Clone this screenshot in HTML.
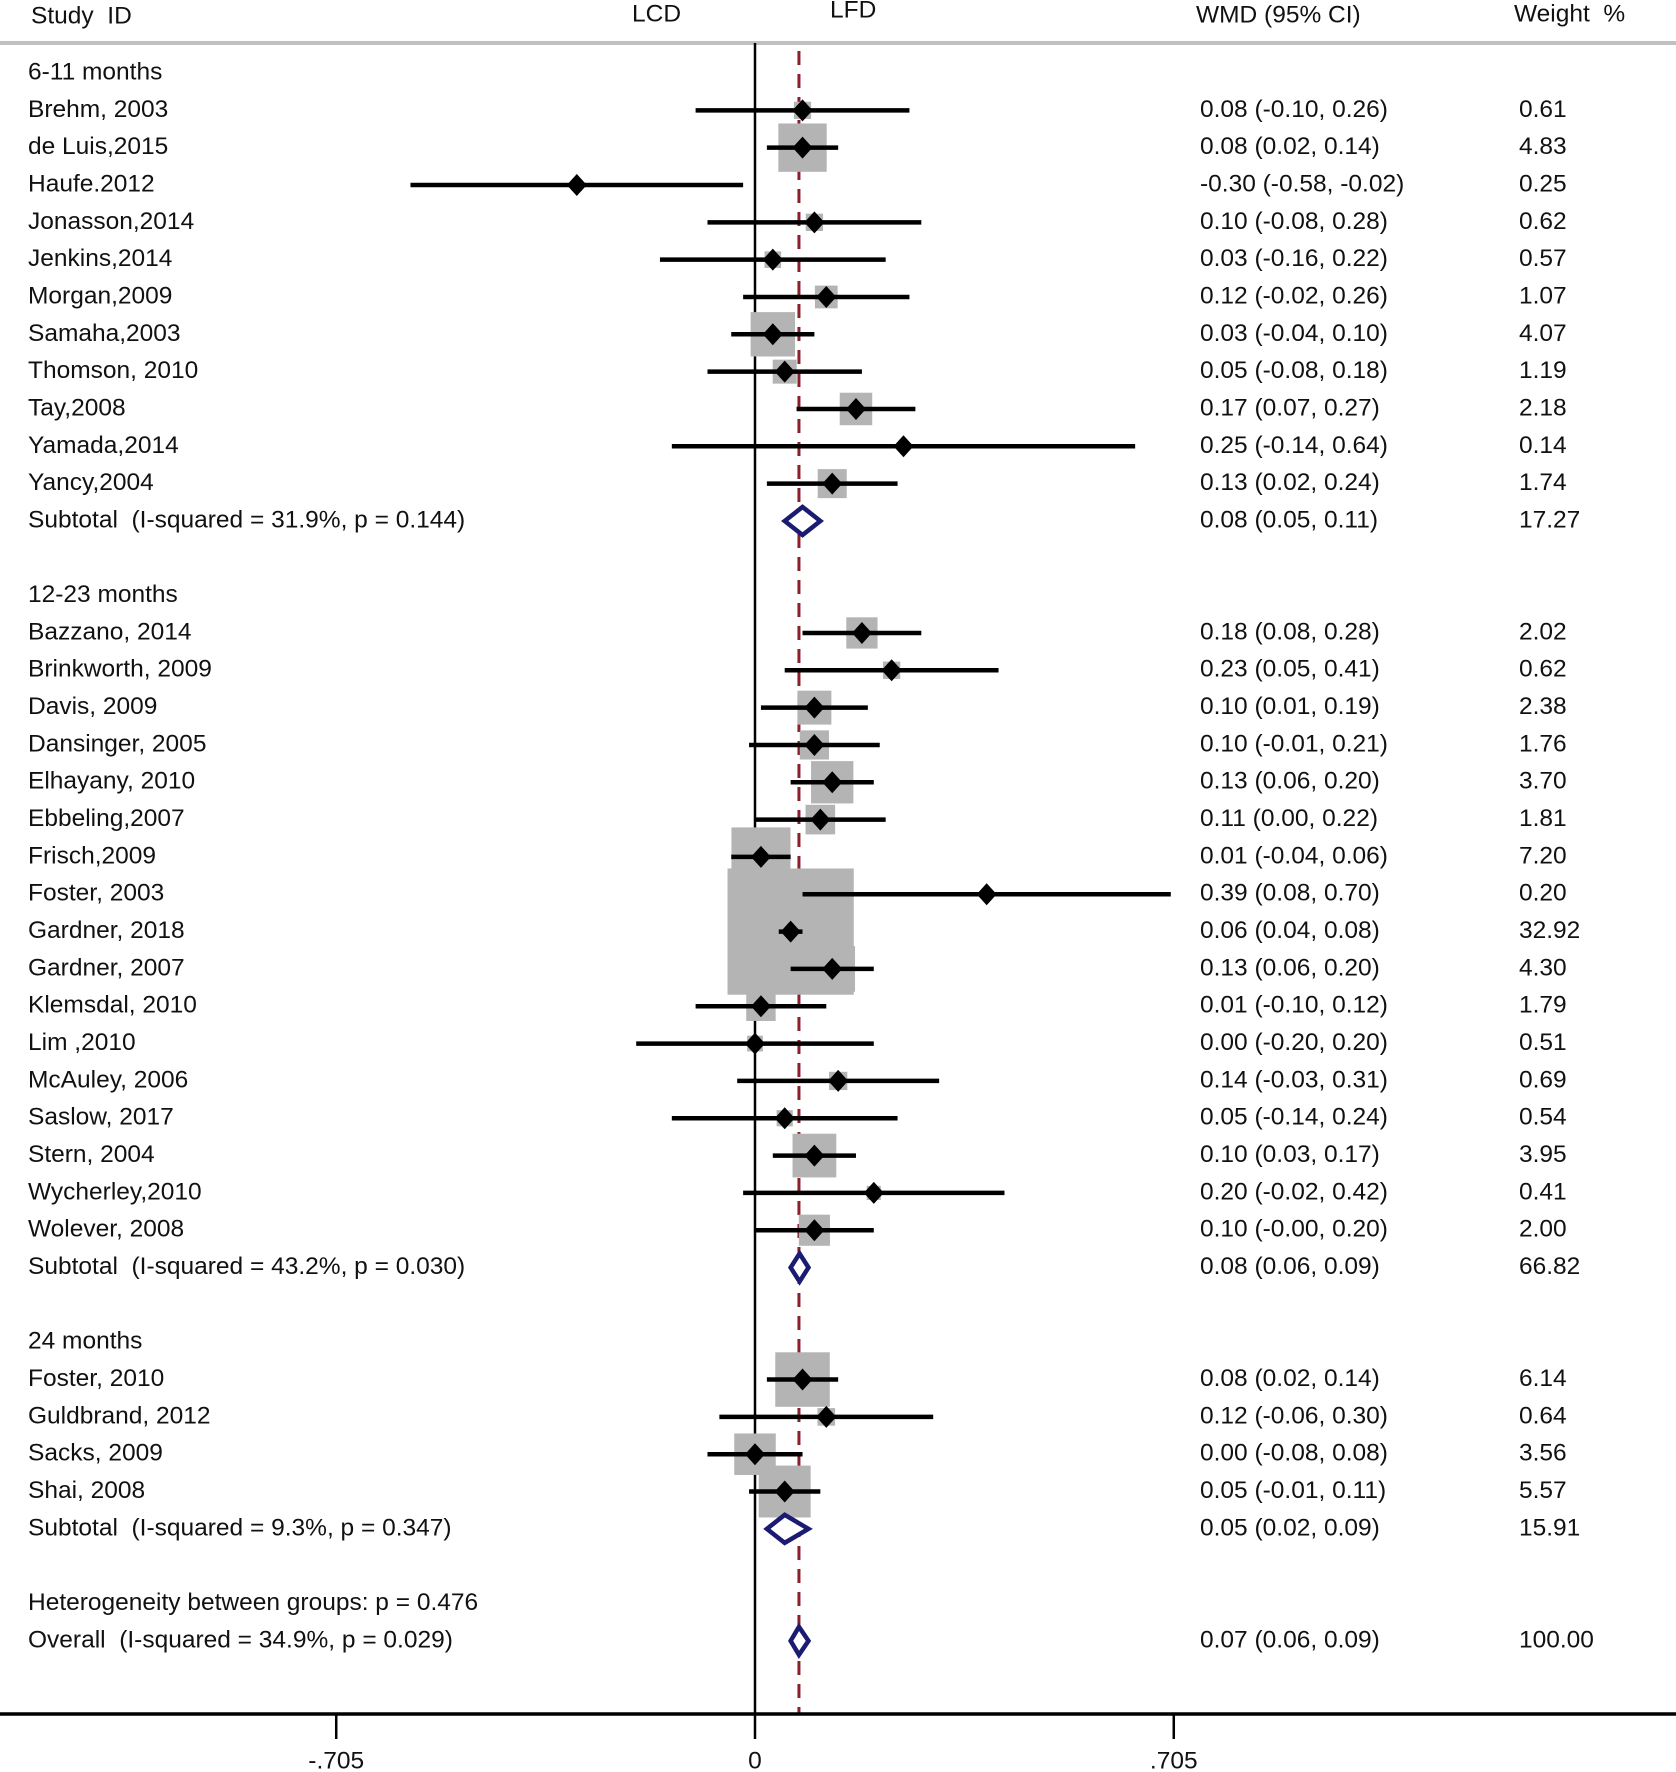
<!DOCTYPE html>
<html><head><meta charset="utf-8"><style>
html,body{margin:0;padding:0;background:#fff;}
svg{display:block;}
text{font-family:"Liberation Sans",Arial,sans-serif;font-size:24.5px;fill:#111;white-space:pre;}
</style></head><body>
<svg id="chart" width="1676" height="1772" viewBox="0 0 1676 1772" xmlns="http://www.w3.org/2000/svg" xml:space="preserve"></svg>
<script>
// ---- data ----
const rowLabels = ["6-11 months","Brehm, 2003","de Luis,2015","Haufe.2012","Jonasson,2014","Jenkins,2014","Morgan,2009","Samaha,2003","Thomson, 2010","Tay,2008","Yamada,2014","Yancy,2004","Subtotal  (I-squared = 31.9%, p = 0.144)","",
"12-23 months","Bazzano, 2014","Brinkworth, 2009","Davis, 2009","Dansinger, 2005","Elhayany, 2010","Ebbeling,2007","Frisch,2009","Foster, 2003","Gardner, 2018","Gardner, 2007","Klemsdal, 2010","Lim ,2010","McAuley, 2006","Saslow, 2017","Stern, 2004","Wycherley,2010","Wolever, 2008","Subtotal  (I-squared = 43.2%, p = 0.030)","",
"24 months","Foster, 2010","Guldbrand, 2012","Sacks, 2009","Shai, 2008","Subtotal  (I-squared = 9.3%, p = 0.347)","",
"Heterogeneity between groups: p = 0.476","Overall  (I-squared = 34.9%, p = 0.029)"];
const rowTypes = ["h","s","s","s","s","s","s","s","s","s","s","s","d","b",
"h","s","s","s","s","s","s","s","s","s","s","s","s","s","s","s","s","s","d","b",
"h","s","s","s","s","d","b","t","d"];
const est = [null,0.08,0.08,-0.30,0.10,0.03,0.12,0.03,0.05,0.17,0.25,0.13,0.08,null,
null,0.18,0.23,0.10,0.10,0.13,0.11,0.01,0.39,0.06,0.13,0.01,0.00,0.14,0.05,0.10,0.20,0.10,0.075,null,
null,0.08,0.12,0.00,0.05,0.05,null,null,0.074];
const lo = [null,-0.10,0.02,-0.58,-0.08,-0.16,-0.02,-0.04,-0.08,0.07,-0.14,0.02,0.05,null,
null,0.08,0.05,0.01,-0.01,0.06,0.00,-0.04,0.08,0.04,0.06,-0.10,-0.20,-0.03,-0.14,0.03,-0.02,-0.00,0.06,null,
null,0.02,-0.06,-0.08,-0.01,0.02,null,null,0.06];
const hi = [null,0.26,0.14,-0.02,0.28,0.22,0.26,0.10,0.18,0.27,0.64,0.24,0.11,null,
null,0.28,0.41,0.19,0.21,0.20,0.22,0.06,0.70,0.08,0.20,0.12,0.20,0.31,0.24,0.17,0.42,0.20,0.09,null,
null,0.14,0.30,0.08,0.11,0.09,null,null,0.09];
const weights = [null,0.61,4.83,0.25,0.62,0.57,1.07,4.07,1.19,2.18,0.14,1.74,17.27,null,
null,2.02,0.62,2.38,1.76,3.70,1.81,7.20,0.20,32.92,4.30,1.79,0.51,0.69,0.54,3.95,0.41,2.00,66.82,null,
null,6.14,0.64,3.56,5.57,15.91,null,null,100.00];
const ciLabels = ["","0.08 (-0.10, 0.26)","0.08 (0.02, 0.14)","-0.30 (-0.58, -0.02)","0.10 (-0.08, 0.28)","0.03 (-0.16, 0.22)","0.12 (-0.02, 0.26)","0.03 (-0.04, 0.10)","0.05 (-0.08, 0.18)","0.17 (0.07, 0.27)","0.25 (-0.14, 0.64)","0.13 (0.02, 0.24)","0.08 (0.05, 0.11)","",
"","0.18 (0.08, 0.28)","0.23 (0.05, 0.41)","0.10 (0.01, 0.19)","0.10 (-0.01, 0.21)","0.13 (0.06, 0.20)","0.11 (0.00, 0.22)","0.01 (-0.04, 0.06)","0.39 (0.08, 0.70)","0.06 (0.04, 0.08)","0.13 (0.06, 0.20)","0.01 (-0.10, 0.12)","0.00 (-0.20, 0.20)","0.14 (-0.03, 0.31)","0.05 (-0.14, 0.24)","0.10 (0.03, 0.17)","0.20 (-0.02, 0.42)","0.10 (-0.00, 0.20)","0.08 (0.06, 0.09)","",
"","0.08 (0.02, 0.14)","0.12 (-0.06, 0.30)","0.00 (-0.08, 0.08)","0.05 (-0.01, 0.11)","0.05 (0.02, 0.09)","","","0.07 (0.06, 0.09)"];
const weightLabels = ["","0.61","4.83","0.25","0.62","0.57","1.07","4.07","1.19","2.18","0.14","1.74","17.27","",
"","2.02","0.62","2.38","1.76","3.70","1.81","7.20","0.20","32.92","4.30","1.79","0.51","0.69","0.54","3.95","0.41","2.00","66.82","",
"","6.14","0.64","3.56","5.57","15.91","","","100.00"];
const tickValues = [-0.705, 0, 0.705];
const tickLabels = ["-.705","0",".705"];
const overallEffect = 0.074;

// ---- layout / axis functions ----
const NS = "http://www.w3.org/2000/svg";
const svg = document.getElementById('chart');
const X0 = 755, PXU = 594;
function xs(v){ return X0 + v*PXU; }
function ys(i){ return 73 + i*37.33; }
const axisY = 1714, topY = 43;
function mk(tag, attrs, parent){
  const e = document.createElementNS(NS, tag);
  for (const k in attrs) e.setAttribute(k, attrs[k]);
  (parent||svg).appendChild(e);
  return e;
}
function txt(x,y,s,parent){
  const t = mk('text',{x:x,y:y,'dominant-baseline':'middle'},parent);
  t.textContent = s; return t;
}

const hdr = mk('g',{});


let t;
t = txt(31,17,"Study  ID",hdr);  
t = txt(632,15,"LCD",hdr);  
t = txt(830,11,"LFD",hdr);  
t = txt(1196,16,"WMD (95% CI)",hdr);  
t = txt(1514,15,"Weight  %",hdr);  
const hl = mk('rect',{x:0,y:41,width:1676,height:4,fill:'#c0c0c0'});



const linesG = mk('g',{});


const zl = mk('line',{x1:xs(0),x2:xs(0),y1:topY,y2:axisY,stroke:'#000','stroke-width':2.5},linesG);


const dl = mk('line',{x1:xs(overallEffect),x2:xs(overallEffect),y1:topY+8,y2:axisY,stroke:'#8b1f2b','stroke-width':3,'stroke-dasharray':'14 9'},linesG);



const boxG = mk('g',{});


const ciG = mk('g',{});


const textG = mk('g',{});



for (let i=0;i<rowLabels.length;i++){
  const y = ys(i);
  const ty = rowTypes[i];
  if (rowLabels[i]) {
    const lab = txt(28,y,rowLabels[i],textG);
    
    
  }
  if (ciLabels[i]) {
    const c = txt(1200,y,ciLabels[i],textG);
    
    
  }
  if (weightLabels[i]) {
    const w = txt(1519,y,weightLabels[i],textG);
    
    
  }
  if (ty==='s'){
    const side = 22*Math.sqrt(weights[i]);
    const cx = xs(est[i]);
    const b = mk('rect',{x:cx-side/2,y:y-side/2,width:side,height:side,fill:'#b4b4b4'},boxG);
    
    
    const l = mk('line',{x1:xs(lo[i]),x2:xs(hi[i]),y1:y,y2:y,stroke:'#000','stroke-width':4.5},ciG);
    
    
    const p = mk('polygon',{points:`${cx-10},${y} ${cx},${y-11} ${cx+10},${y} ${cx},${y+11}`,fill:'#000'},ciG);
    
    
  } else if (ty==='d'){
    const cx = xs(est[i]), a = xs(lo[i]), bb = xs(hi[i]);
    const dm = mk('polygon',{points:`${a},${y} ${cx},${y-14} ${bb},${y} ${cx},${y+14}`,fill:'#fff',stroke:'#1b1b72','stroke-width':4.5},ciG);
    
    
  }
}

const axG = mk('g',{});


const al = mk('line',{x1:0,x2:1676,y1:axisY,y2:axisY,stroke:'#000','stroke-width':3.5},axG);


for (let k=0;k<tickValues.length;k++){
  const x = xs(tickValues[k]);
  const tk = mk('line',{x1:x,x2:x,y1:axisY,y2:axisY+25,stroke:'#000','stroke-width':2.5},axG);
  
  
  const tl = txt(x,1762,tickLabels[k],axG);
  tl.setAttribute('text-anchor','middle');
  
  
}
</script>
</body></html>
